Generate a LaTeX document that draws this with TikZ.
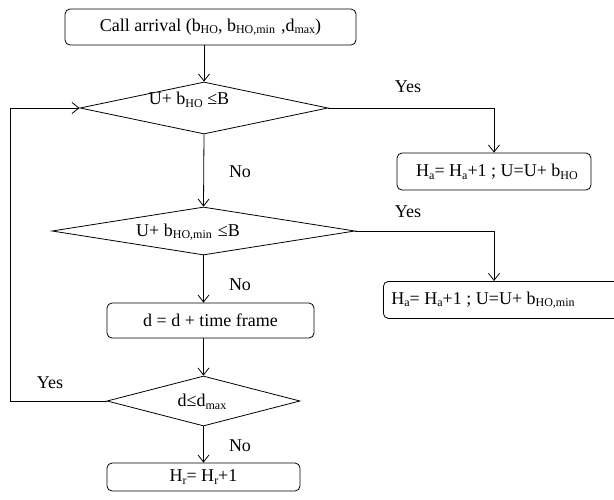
\documentclass[tikz,border=0pt]{standalone}
\usepackage{fontspec}
\setmainfont{Liberation Serif}
\usetikzlibrary{arrows.meta,shapes.geometric}
% small lowered index used in all labels
\newcommand{\lowtxt}[1]{\raisebox{-0.3ex}{\fontsize{12}{12}\selectfont #1}}
\begin{document}
\begin{tikzpicture}[x=1pt,y=-1pt,
  font=\fontsize{18}{21}\selectfont,
  line width=0.8pt,
  flowbox/.style={draw, rounded corners=5pt, inner sep=0pt},
  decision/.style={diamond, draw, inner sep=0pt},
  txt/.style={inner sep=0pt},
  flow/.style={draw, -{Straight Barb[length=7pt,width=11pt,line width=0.8pt]}},
  plain/.style={draw}
]
\useasboundingbox (0,0) rectangle (614,499);
\clip (0,0) rectangle (614,499);

% process boxes
\node[flowbox, minimum width=291pt, minimum height=36pt] (start) at (210.5,27) {Call arrival (b\lowtxt{HO}, b\lowtxt{HO,min}\hspace{6pt},d\lowtxt{max})};
\node[flowbox, minimum width=194pt, minimum height=37pt] (acc1) at (494,171.5) {};
\node[txt] at (497,172) {H\lowtxt{a}= H\lowtxt{a}+1 ; U=U+ b\lowtxt{HO}};
\node[flowbox, minimum width=250pt, minimum height=37pt, anchor=north west] (acc2) at (383,281) {};
\node[txt, anchor=west] at (391,300) {H\lowtxt{a}= H\lowtxt{a}+1 ; U=U+ b\lowtxt{HO,min}};
\node[flowbox, minimum width=207pt, minimum height=35pt] (wait) at (210.5,320.5) {d = d + time frame};
\node[flowbox, minimum width=193pt, minimum height=28pt] (rej) at (203.5,477) {H\lowtxt{r}= H\lowtxt{r}+1};

% decisions
\node[decision, minimum width=248pt, minimum height=52pt] (full) at (204,108) {};
\node[txt] at (189,100) {U+ b\lowtxt{HO} ≤B};
\node[decision, minimum width=303pt, minimum height=48pt] (reduced) at (203.5,231) {};
\node[txt] at (188,232) {U+ b\lowtxt{HO,min}\hspace{6pt}≤B};
\node[decision, minimum width=193pt, minimum height=50pt] (late) at (203.5,401) {};
\node[txt] at (202,402) {d≤d\lowtxt{max}};

% branch labels
\node[txt] at (408,87) {Yes};
\node[txt] at (240,172) {No};
\node[txt] at (408,212) {Yes};
\node[txt] at (240,285) {No};
\node[txt] at (50,383) {Yes};
\node[txt] at (240,446) {No};

% connectors
\coordinate (loopbot) at (10,401);
\coordinate (looptop) at (10,108);
\draw[flow] (start.south -| full.north) -- (full.north);
\draw[flow] (full.east) -- (acc1.north |- full.east) -- (acc1.north);
\draw[flow] (full.south) -- (reduced.north);
\draw[flow] (reduced.east) -- (acc1.north |- reduced.east) -- (acc1.north |- acc2.north);
\draw[flow] (reduced.south) -- (reduced.south |- wait.north);
\draw[flow] (reduced.south |- wait.south) -- (late.north);
\draw[flow] (late.west) -- (loopbot) -- (looptop) -- (full.west);
\draw[flow] (late.south) -- (late.south |- rej.north);
\end{tikzpicture}
\end{document}
